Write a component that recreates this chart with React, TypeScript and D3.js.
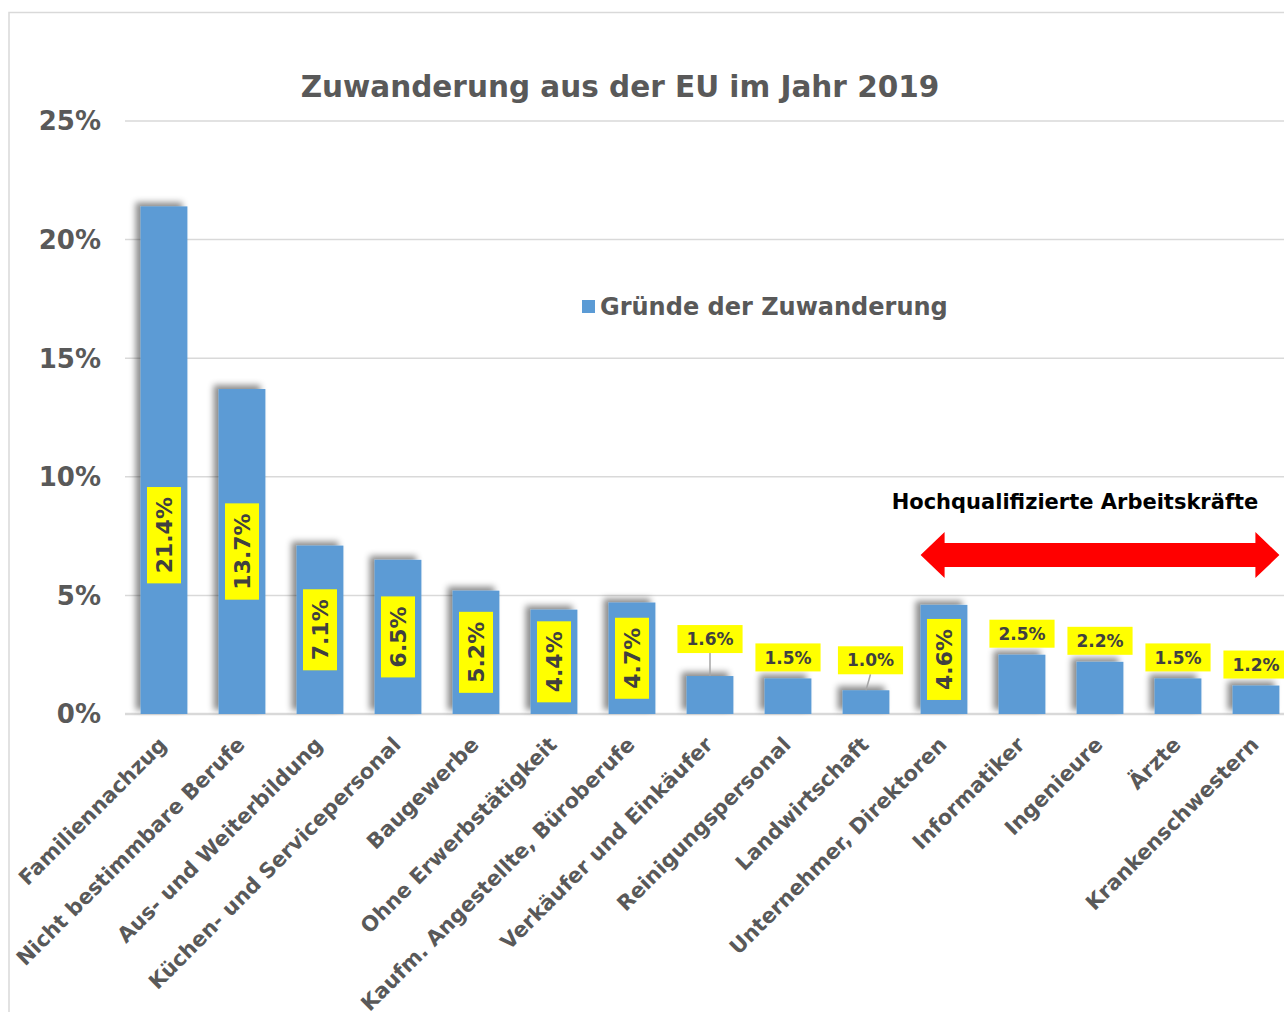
import * as d3 from "d3";

const categories = [
  "Familiennachzug",
  "Nicht bestimmbare Berufe",
  "Aus- und Weiterbildung",
  "Küchen- und Servicepersonal",
  "Baugewerbe",
  "Ohne Erwerbstätigkeit",
  "Kaufm. Angestellte, Büroberufe",
  "Verkäufer und Einkäufer",
  "Reinigungspersonal",
  "Landwirtschaft",
  "Unternehmer, Direktoren",
  "Informatiker",
  "Ingenieure",
  "Ärzte",
  "Krankenschwestern",
];
const values = [21.4, 13.7, 7.1, 6.5, 5.2, 4.4, 4.7, 1.6, 1.5, 1.0, 4.6, 2.5, 2.2, 1.5, 1.2];
const yTicks = [0, 5, 10, 15, 20, 25];

const title = "Zuwanderung aus der EU im Jahr 2019";
const seriesName = "Gründe der Zuwanderung";
const noteText = "Hochqualifizierte Arbeitskräfte";

// manual label nudges (like in the original workbook)
const nudge: Record<number, { dx: number; dy: number }> = {
  0: { dx: 0, dy: 75 },
  7: { dx: 0, dy: -16 },
  9: { dx: 4.5, dy: -9 },
};

const FONT = "'DejaVu Sans', Verdana, sans-serif";
const BLUE = "#5b9bd5";
const GREY = "#595959";
const GRID = "#d9d9d9";

const canvas = document.createElement("canvas");
const ctx = canvas.getContext("2d")!;
function textWidth(t: string, size: number) {
  ctx.font = `bold ${size}px ${FONT}`;
  return ctx.measureText(t).width;
}

export default function App() {
  const width = 1284;
  const height = 1012;
  const plotLeft = 125;

  const x = d3.scaleBand<string>().domain(categories).range([plotLeft, 1295]).paddingInner(0.4).paddingOuter(0.2);
  const y = d3.scaleLinear().domain([0, 25]).range([714, 121]);
  const bw = x.bandwidth();
  const fmt = (v: number) => v.toFixed(1) + "%";

  // arrow over the highly qualified group
  const aL = x(categories[10])!;
  const aR = x(categories[14])! + bw;
  const aY = y(6.7);
  const shaft = 12;
  const head = 23;
  const headLen = 24;
  const arrow = [
    [aL, aY],
    [aL + headLen, aY - head],
    [aL + headLen, aY - shaft],
    [aR - headLen, aY - shaft],
    [aR - headLen, aY - head],
    [aR, aY],
    [aR - headLen, aY + head],
    [aR - headLen, aY + shaft],
    [aL + headLen, aY + shaft],
    [aL + headLen, aY + head],
  ];

  return (
    <svg
      width={width}
      height={height}
      style={{ position: "absolute", left: 0, top: 0, background: "#fff" }}
      fontFamily={FONT}
    >
      <defs>
        <filter id="shadow" x="-50%" y="-50%" width="200%" height="200%">
          <feDropShadow dx={-5} dy={-4} stdDeviation={3} floodColor="#000" floodOpacity={0.45} />
        </filter>
      </defs>
      <rect x={9} y={12.5} width={width} height={height} fill="#fff" stroke={GRID} strokeWidth={1.5} />

      <text x={620} y={97} textAnchor="middle" fontSize={29.5} fontWeight="bold" fill={GREY}>
        {title}
      </text>

      {yTicks.map((t) => (
        <g key={t}>
          <line x1={plotLeft} x2={width} y1={y(t)} y2={y(t)} stroke={GRID} strokeWidth={t === 0 ? 2.5 : 1.5} />
          <text x={101} y={y(t)} dy="0.36em" textAnchor="end" fontSize={26} fontWeight="bold" fill={GREY}>
            {t}%
          </text>
        </g>
      ))}

      <g filter="url(#shadow)">
        {values.map((v, i) => (
          <rect key={i} x={x(categories[i])} y={y(v)} width={bw} height={y(0) - y(v)} fill={BLUE} />
        ))}
      </g>

      {values.map((v, i) => {
        const cx = x(categories[i])! + bw / 2;
        const n = nudge[i] || { dx: 0, dy: 0 };
        const label = fmt(v);
        if (v > 3) {
          const tw = textWidth(label, 22);
          const cy = (y(v) + y(0)) / 2 + n.dy;
          const h = tw + 20;
          return (
            <g key={i}>
              <rect x={cx - 17} y={cy - h / 2} width={34} height={h} fill="#ffff00" />
              <text transform={`translate(${cx},${cy}) rotate(-90)`} textAnchor="middle" dy="0.36em"
                fontSize={22} fontWeight="bold" fill="#404040">
                {label}
              </text>
            </g>
          );
        }
        const tw = textWidth(label, 17);
        const w = tw + 18;
        const h = 28;
        const bx = cx + n.dx;
        const bottom = y(v) - 7 + n.dy;
        return (
          <g key={i}>
            {n.dy !== 0 && (
              <line x1={bx} y1={bottom} x2={cx} y2={y(v)} stroke="#a6a6a6" strokeWidth={1.5} />
            )}
            <rect x={bx - w / 2} y={bottom - h} width={w} height={h} fill="#ffff00" />
            <text x={bx} y={bottom - h / 2} dy="0.36em" textAnchor="middle" fontSize={17} fontWeight="bold" fill="#404040">
              {label}
            </text>
          </g>
        );
      })}

      {categories.map((c) => (
        <text key={c} transform={`translate(${x(c)! + bw / 2 + 4},${746}) rotate(-45)`} textAnchor="end"
          fontSize={21} fontWeight="bold" fill={GREY}>
          {c}
        </text>
      ))}

      <rect x={582} y={300} width={13} height={13} fill={BLUE} />
      <text x={600} y={315} fontSize={24} fontWeight="bold" fill={GREY}>
        {seriesName}
      </text>

      <text x={1075} y={509} textAnchor="middle" fontSize={21} fontWeight="bold" fill="#000">
        {noteText}
      </text>
      <polygon points={arrow.map((p) => p.join(",")).join(" ")} fill="#ff0000" />
    </svg>
  );
}
